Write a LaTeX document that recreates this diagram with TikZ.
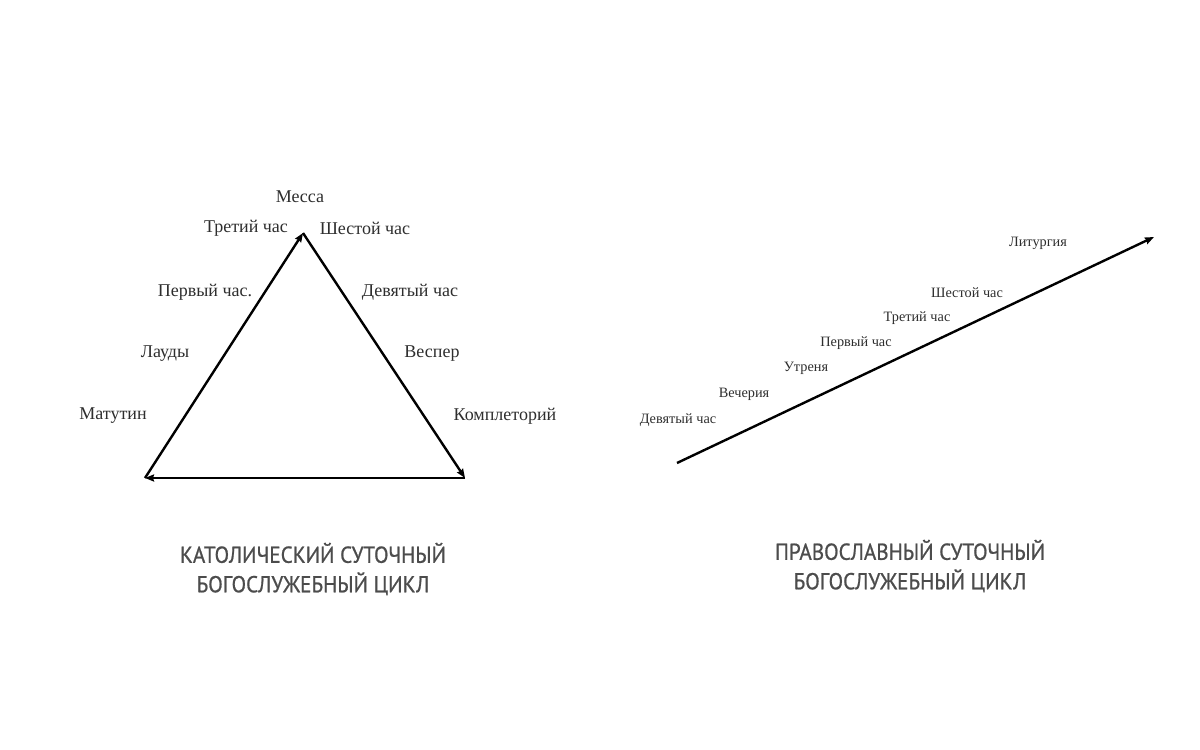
\documentclass[tikz,border=0pt]{standalone}
\usepackage{fontspec}
\setmainfont{Liberation Serif}
\newfontfamily\titlefont[FakeStretch=0.92,FakeBold=0.8]{PT Sans}
\usetikzlibrary{arrows.meta}
\begin{document}
\begin{tikzpicture}[x=1pt,y=-1pt,
  lbl/.style={font=\fontsize{18}{20}\selectfont, text=black!82, inner sep=0pt},
  slbl/.style={font=\fontsize{14.3}{16}\selectfont, text=black!82, inner sep=0pt},
  ttl/.style={font=\titlefont\fontsize{23}{29.5}\selectfont, text=black!70, align=center, inner sep=0pt},
  arr/.style={line width=2.4pt, -{Stealth[length=9pt,width=7pt,inset=1pt]}}]
\useasboundingbox[fill=white] (0,0) rectangle (1200,750);
% triangle
\coordinate (A) at (303,233);
\coordinate (L) at (145,478);
\coordinate (R) at (465,478);
\draw[arr] (L) -- (A);
\draw[arr] (A) -- (R);
\draw[arr] (R) -- (L);
\node[lbl] (messa) at (300,197) {Месса};
\node[lbl] (t3) at (246,228) {Третий час};
\node[lbl] (t6) at (365,228) {Шестой час};
\node[lbl] (t1) at (205,292) {Первый час.};
\node[lbl] (t9) at (410,292) {Девятый час};
\node[lbl] (laudy) at (165,354) {Лауды};
\node[lbl] (vesper) at (432,354) {Веспер};
\node[lbl] (matutin) at (113,416) {Матутин};
\node[lbl] (kompl) at (505,416) {Комплеторий};
% line
\coordinate (S) at (677,463);
\coordinate (E) at (1154,237);
\draw[arr] (S) -- (E);
\node[slbl] (lit) at (1038,243) {Литургия};
\node[slbl] (o6) at (967,293) {Шестой час};
\node[slbl] (o3) at (917,318) {Третий час};
\node[slbl] (o1) at (856,343) {Первый час};
\node[slbl] (utr) at (806,368) {Утреня};
\node[slbl] (vech) at (744,394) {Вечерия};
\node[slbl] (o9) at (678,420) {Девятый час};
% titles
\node[ttl] (t1ttl) at (313,569) {КАТОЛИЧЕСКИЙ СУТОЧНЫЙ\\БОГОСЛУЖЕБНЫЙ ЦИКЛ};
\node[ttl] (t2ttl) at (910,566) {ПРАВОСЛАВНЫЙ СУТОЧНЫЙ\\БОГОСЛУЖЕБНЫЙ ЦИКЛ};
\end{tikzpicture}
\end{document}
